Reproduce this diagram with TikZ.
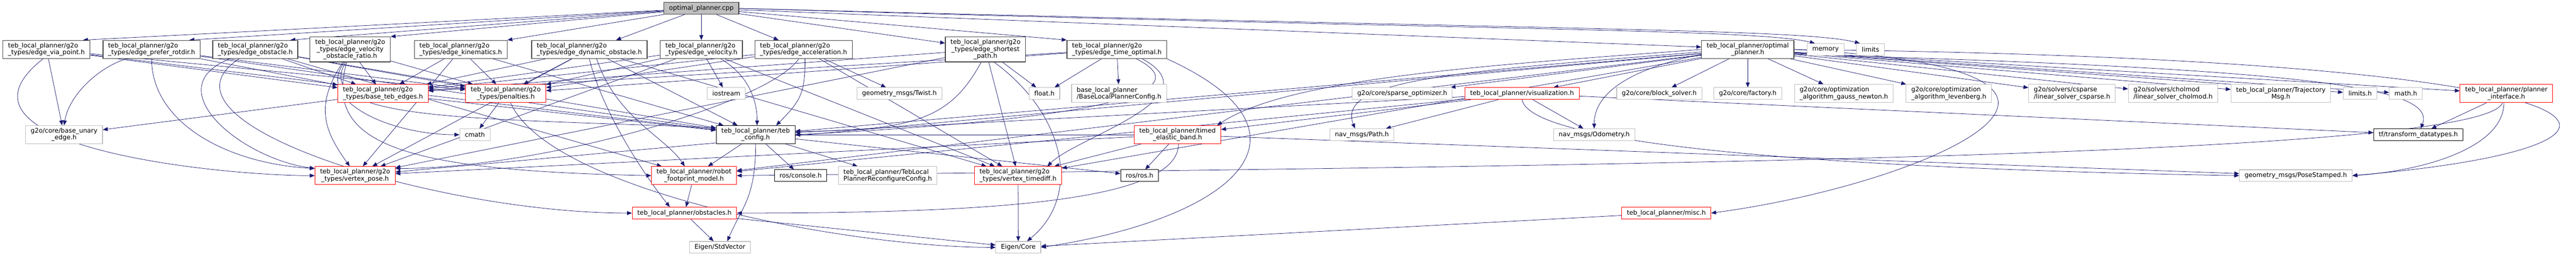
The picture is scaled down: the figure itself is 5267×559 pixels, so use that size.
\documentclass[tikz,border=0pt]{standalone}
\usepackage{fontspec}
\setmainfont{DejaVu Sans}
\usetikzlibrary{arrows.meta,positioning}
\pgfdeclarelayer{background}
\pgfsetlayers{background,main}
\definecolor{edgeblue}{HTML}{191970}
\definecolor{boxgrey}{HTML}{BFBFBF}
\definecolor{boxdark}{HTML}{404040}
\tikzset{
  hfile/.style={draw=black, line width=1pt, fill=white, align=center,
    font=\fontsize{13}{14}\selectfont, inner xsep=10.5pt, inner ysep=1pt},
  tfile/.style={hfile, draw=boxdark, line width=1.4pt},
  sfile/.style={hfile, draw=boxgrey, line width=1.2pt},
  cfile/.style={hfile, draw=red},
  rfile/.style={tfile, fill=boxgrey},
  onel/.style={minimum height=24pt},
  twol/.style={minimum height=37pt},
  threel/.style={minimum height=51pt},
  link/.style={draw=edgeblue, line width=0.8pt},
}

\begin{document}
\begin{tikzpicture}[x=1pt,y=1pt,on grid,>={Triangle[length=10pt,width=8pt]},every edge/.style={link}]
   \useasboundingbox (0,0) rectangle (5267,-559);
   \node [tfile,twol,align=left] (H_via) at (95,-101) {teb\_local\_planner/g2o\\\_types/edge\_via\_point.h};
   \node [tfile,twol,align=left] (H_rot) [right=215pt of H_via] {teb\_local\_planner/g2o\\\_types/edge\_prefer\_rotdir.h};
   \node [tfile,twol,align=left] (H_obst) [right=212pt of H_rot] {teb\_local\_planner/g2o\\\_types/edge\_obstacle.h};
   \node [tfile,threel] (H_vor) [right=194pt of H_obst] {teb\_local\_planner/g2o\\\_types/edge\_velocity\\\_obstacle\_ratio.h};
   \node [tfile,twol,align=left] (H_kin) [right=226pt of H_vor] {teb\_local\_planner/g2o\\\_types/edge\_kinematics.h};
   \node [tfile,twol,align=left] (H_dyn) [right=263pt of H_kin] {teb\_local\_planner/g2o\\\_types/edge\_dynamic\_obstacle.h};
   \node [tfile,twol,align=left] (H_vel) [right=229pt of H_dyn] {teb\_local\_planner/g2o\\\_types/edge\_velocity.h};
   \node [tfile,twol,align=left] (H_acc) [right=209pt of H_vel] {teb\_local\_planner/g2o\\\_types/edge\_acceleration.h};
   \node [tfile,threel] (H_sp) [right=372pt of H_acc] {teb\_local\_planner/g2o\\\_types/edge\_shortest\\\_path.h};
   \node [tfile,twol,align=left] (H_to) [right=268.5pt of H_sp] {teb\_local\_planner/g2o\\\_types/edge\_time\_optimal.h};
   \node [tfile,twol] (H_opt) [right=1290pt of H_to] {teb\_local\_planner/optimal\\\_planner.h};
   \node [sfile,onel] (H_mem) [right=159pt of H_opt] {memory};
   \node [sfile,onel] (H_lim) [right=92pt of H_mem] {limits};
   \node [rfile,onel] (H_cpp) [above=84pt of H_vel] {optimal\_planner.cpp};

   \node [cfile,twol,align=left] (H_bte) at (783,-191) {teb\_local\_planner/g2o\\\_types/base\_teb\_edges.h};
   \node [cfile,twol] (H_pen) [right=251pt of H_bte] {teb\_local\_planner/g2o\\\_types/penalties.h};
   \node [sfile,onel] (H_ios) [right=451pt of H_pen] {iostream};
   \node [sfile,onel] (H_twist) [right=354pt of H_ios] {geometry\_msgs/Twist.h};
   \node [sfile,onel] (H_float) [right=296.5pt of H_twist] {float.h};
   \node [sfile,twol,align=left] (H_blp) [right=152.5pt of H_float] {base\_local\_planner\\/BaseLocalPlannerConfig.h};
   \node [sfile,onel] (H_spo) [right=579pt of H_blp] {g2o/core/sparse\_optimizer.h};
   \node [cfile,onel] (H_vis) [right=245pt of H_spo] {teb\_local\_planner/visualization.h};
   \node [sfile,onel] (H_bs) [right=280.5pt of H_vis] {g2o/core/block\_solver.h};
   \node [sfile,onel] (H_fac) [right=181pt of H_bs] {g2o/core/factory.h};
   \node [sfile,twol,align=left] (H_gn) [right=196.5pt of H_fac] {g2o/core/optimization\\\_algorithm\_gauss\_newton.h};
   \node [sfile,twol,align=left] (H_lm) [right=214.5pt of H_gn] {g2o/core/optimization\\\_algorithm\_levenberg.h};
   \node [sfile,twol,align=left] (H_cs) [right=252pt of H_lm] {g2o/solvers/csparse\\/linear\_solver\_csparse.h};
   \node [sfile,twol,align=left] (H_ch) [right=206.5pt of H_cs] {g2o/solvers/cholmod\\/linear\_solver\_cholmod.h};
   \node [sfile,twol] (H_traj) [right=220.5pt of H_ch] {teb\_local\_planner/Trajectory\\Msg.h};
   \node [sfile,onel] (H_limh) [right=162pt of H_traj] {limits.h};
   \node [sfile,onel] (H_math) [right=93.5pt of H_limh] {math.h};
   \node [cfile,twol] (H_pi) [right=205.5pt of H_math] {teb\_local\_planner/planner\\\_interface.h};

   \node [sfile,twol] (H_bue) at (131,-275) {g2o/core/base\_unary\\\_edge.h};
   \node [sfile,onel] (H_cmath) [right=840pt of H_bue] {cmath};
   \node [hfile,twol] (H_cfg) [right=574pt of H_cmath] {teb\_local\_planner/teb\\\_config.h};
   \node [cfile,twol] (H_teb) [right=862.5pt of H_cfg] {teb\_local\_planner/timed\\\_elastic\_band.h};
   \node [sfile,onel] (H_path) [right=377pt of H_teb] {nav\_msgs/Path.h};
   \node [sfile,onel] (H_odom) [right=475pt of H_path] {nav\_msgs/Odometry.h};
   \node [hfile,onel] (H_tf) [right=1685pt of H_odom] {tf/transform\_datatypes.h};

   \node [cfile,twol] (H_vp) at (726,-358.5) {teb\_local\_planner/g2o\\\_types/vertex\_pose.h};
   \node [cfile,twol] (H_rfm) [right=693pt of H_vp] {teb\_local\_planner/robot\\\_footprint\_model.h};
   \node [hfile,onel] (H_con) [right=218pt of H_rfm] {ros/console.h};
   \node [sfile,twol,align=left] (H_rcfg) [right=178pt of H_con] {teb\_local\_planner/TebLocal\\PlannerReconfigureConfig.h};
   \node [cfile,twol,align=left] (H_vt) [right=266.5pt of H_rcfg] {teb\_local\_planner/g2o\\\_types/vertex\_timediff.h};
   \node [hfile,onel] (H_ros) [right=248.5pt of H_vt] {ros/ros.h};
   \node [sfile,onel] (H_ps) [right=2364pt of H_ros] {geometry\_msgs/PoseStamped.h};

   \node [cfile,onel] (H_obs) at (1399.5,-435) {teb\_local\_planner/obstacles.h};
   \node [cfile,onel] (H_misc) [right=2007.5pt of H_obs] {teb\_local\_planner/misc.h};
   \node [sfile,onel] (H_sv) at (1472,-505) {Eigen/StdVector};
   \node [sfile,onel] (H_ec) [right=610pt of H_sv] {Eigen/Core};

   \begin{pgfonlayer}{background}
   \path[->]
    (H_cpp) edge ([xshift=-15pt]H_via.north east)
    (H_cpp) edge ([xshift=-23pt]H_rot.north east)
    (H_cpp) edge ([xshift=-16pt]H_obst.north east)
    (H_cpp) edge (H_vor.north east)
    (H_cpp) edge (H_kin.north east)
    (H_cpp) edge ([xshift=-64pt]H_dyn.north east)
    (H_cpp) edge (H_vel)
    (H_cpp) edge ([xshift=-51pt]H_acc.north)
    (H_cpp) edge ([yshift=13pt]H_sp.west)
    (H_cpp) edge (H_to.north west)
    (H_cpp) edge ([yshift=5pt]H_opt.west);
   \draw[->,link] (H_cpp.east) .. controls +(1500,-45) and +(-120,30) .. (H_mem.150);
   \draw[->,link] (H_cpp.east) .. controls +(1700,-45) and +(-120,30) .. (H_lim.150);
   \path[->]
    (H_via) edge (H_bue)
    (H_via) edge (H_bte)
    (H_via) edge (H_pen)
    (H_via) edge (H_cfg)
    (H_rot) edge (H_bte)
    (H_rot) edge (H_pen)
    (H_rot) edge (H_cfg)
    (H_obst) edge (H_bte)
    (H_obst) edge (H_pen)
    (H_obst) edge (H_cfg)
    (H_obst) edge (H_rfm)
    (H_vor) edge (H_bte)
    (H_vor) edge (H_pen)
    (H_kin) edge (H_bte)
    (H_kin) edge (H_pen)
    (H_kin) edge (H_cfg)
    (H_kin) edge (H_vp)
    (H_dyn) edge (H_bte)
    (H_dyn) edge (H_pen)
    (H_dyn) edge (H_vp)
    (H_dyn) edge (H_vt)
    (H_dyn) edge (H_cfg)
    (H_vel) edge (H_bte)
    (H_vel) edge (H_pen)
    (H_vel) edge (H_vp)
    (H_vel) edge (H_vt)
    (H_vel) edge (H_ios)
    (H_acc) edge (H_bte)
    (H_acc) edge (H_pen)
    (H_acc) edge (H_vt)
    (H_acc) edge (H_twist)
    (H_sp) edge (H_bte)
    (H_sp) edge (H_vp)
    (H_sp) edge (H_vt)
    (H_sp) edge (H_float)
    (H_to) edge (H_bte)
    (H_to) edge (H_pen)
    (H_to) edge (H_float)
    (H_to) edge (H_blp);
   \draw[->,link] (H_via.250) .. controls +(-230,-180) and +(-190,0) .. (H_vp.west);
   \draw[->,link] (H_rot.200) .. controls +(-60,-20) and +(10,60) .. (H_bue.north);
   \draw[->,link] (H_rot.south) .. controls +(0,-130) and +(-180,10) .. (H_vp.170);
   \draw[->,link] (H_obst.200) .. controls +(-150,-60) and +(-150,20) .. (H_vp.170);
   \draw[->,link] (H_obst.210) .. controls +(-200,-130) and +(-400,0) .. (H_obs.west);
   \draw[->,link] (H_vor.240) .. controls +(-60,-90) and +(-50,70) .. (H_vp.120);
   \draw[->,link] (H_vor.245) .. controls +(-60,-80) and +(-140,0) .. (H_cmath.west);
   \draw[->,link] (H_vor.250) .. controls +(-70,-120) and +(-500,20) .. (H_cfg.170);
   \draw[->,link] (H_vor.255) .. controls +(-50,-170) and +(-500,10) .. (H_rfm.west);
   \draw[->,link] (H_dyn.south) .. controls +(30,-120) and +(-40,50) .. ([xshift=-30pt]H_obs.north);
   \draw[->,link] ([xshift=15pt]H_dyn.south) .. controls +(40,-120) and +(-40,60) .. ([xshift=-19pt]H_rfm.north);
   \draw[->,link] ([xshift=40pt]H_vel.south) .. controls +(50,-30) and +(0,60) .. ([xshift=3pt]H_cfg.north);
   \draw[->,link] ([xshift=3pt]H_acc.south) .. controls +(0,-70) and +(50,50) .. ([xshift=42pt]H_cfg.north);
   \draw[->,link] ([xshift=-10pt]H_acc.south) .. controls +(-60,-90) and +(300,0) .. (H_vp.10);
   \draw[->,link] ([xshift=-9pt]H_sp.south) .. controls +(-60,-110) and +(250,0) .. (H_cfg.5);
   \draw[->,link] ([xshift=18pt]H_sp.south) .. controls +(150,-110) and +(110,90) .. ([xshift=18pt]H_ec.north);
   \draw[->,link] ([xshift=40pt]H_to.south) .. controls +(140,-70) and +(600,30) .. (H_cfg.east);
   \draw[->,link] ([xshift=52pt]H_to.south) .. controls +(150,-80) and +(60,60) .. ([xshift=60pt]H_vt.north);
   \draw[->,link] (H_to.south east) .. controls +(330,-150) and +(400,60) .. (H_ec.east);
   \path[->]
    (H_bte) edge (H_bue)
    (H_bte) edge (H_cfg)
    (H_pen) edge (H_cmath)
    (H_cfg) edge (H_rfm)
    (H_cfg) edge (H_con)
    (H_cfg) edge (H_rcfg)
    (H_cfg) edge (H_ros)
    (H_rfm) edge (H_obs)
    (H_obs) edge (H_sv)
    (H_obs) edge (H_ec)
    (H_vt) edge (H_ec)
    (H_misc) edge (H_ec)
    (H_teb) edge (H_ros)
    (H_teb) edge (H_vp)
    (H_teb) edge (H_vt)
    (H_teb) edge (H_cfg)
    (H_teb) edge (H_ps)
    (H_vis) edge (H_path)
    (H_vis) edge (H_odom)
    (H_vis) edge (H_tf)
    (H_vis) edge (H_teb)
    (H_vis) edge (H_cfg)
    (H_vis) edge (H_rfm)
    (H_pi) edge (H_tf);
   \draw[->,link] ([xshift=10pt]H_pen.south) .. controls +(80,-180) and +(-300,0) .. (H_ec.west);
   \draw[->,link] (H_cfg.south) .. controls +(0,-110) and +(30,70) .. ([xshift=15pt]H_sv.north);
   \draw[->,link] ([xshift=2pt]H_teb.south) .. controls +(0,-120) and +(500,0) .. (H_obs.east);
   \draw[->,link] (H_vis.south) .. controls +(20,-110) and +(-600,10) .. (H_ps.west);
   \draw[->,link] ([xshift=-5pt]H_pi.south) .. controls +(0,-90) and +(150,10) .. (H_ps.east);
   \draw[->,link] ([xshift=-8pt]H_pi.south) .. controls +(-40,-110) and +(1800,20) .. (H_rfm.east);
   \path[->]
    (H_opt) edge (H_pi)
    (H_opt) edge (H_cfg)
    (H_opt) edge (H_rfm)
    (H_opt) edge (H_vp)
    (H_opt) edge (H_vt)
    (H_opt) edge (H_vis)
    (H_opt) edge (H_spo)
    (H_opt) edge (H_bs)
    (H_opt) edge (H_fac)
    (H_opt) edge (H_gn)
    (H_opt) edge (H_lm)
    (H_opt) edge (H_cs)
    (H_opt) edge (H_ch)
    (H_opt) edge (H_traj)
    (H_opt) edge (H_limh)
    (H_opt) edge (H_math);
   \draw[->,link] (H_opt.west) .. controls +(-400,-30) and +(150,100) .. ([xshift=-8pt]H_teb.north east);
   \draw[->,link] ([yshift=-10pt]H_opt.west) .. controls +(-100,-20) and +(0,90) .. (H_odom.north);
   \draw[->,link] ([yshift=-5pt]H_opt.west) .. controls +(-500,-40) and +(-40,100) .. ([xshift=-14pt]H_path.north);
   \draw[->,link] ([yshift=-10pt]H_opt.east) .. controls +(1100,-30) and +(30,80) .. ([xshift=5pt]H_tf.north);
   \draw[->,link] (H_opt.east) .. controls +(1800,-20) and +(700,60) .. (H_ps.east);
   \draw[->,link] (H_opt.east) .. controls +(800,-40) and +(450,60) .. (H_misc.east);
   \end{pgfonlayer}
\end{tikzpicture}
\end{document}
